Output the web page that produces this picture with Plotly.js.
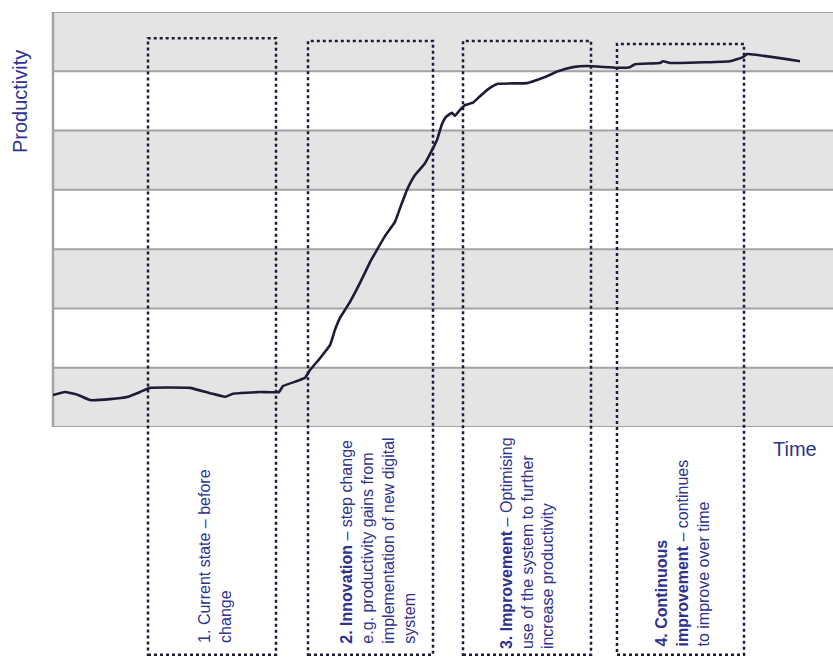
<!DOCTYPE html>
<html>
<head>
<meta charset="utf-8">
<script src="https://cdn.plot.ly/plotly-3.0.1.min.js"></script>
<style>html,body{margin:0;padding:0;background:#fff;}#chart{width:833px;height:657px;}</style>
</head>
<body>
<div id="chart"></div>
<script>
// Time (arbitrary units) and productivity (arbitrary units, gridlines at integers)
var timeValues = [0,12,25,37,57,75,87,97,137,157,172,180,207,226,230,245,252,257,267,277,282,287,297,307,317,322,332,342,347,354,362,372,379,384,389,393,399,402,407,412,420,427,437,445,474,490,505,520,534,564,577,582,607,610,617,627,677,690,694,747];
var productivity = [0.54,0.59,0.54,0.455,0.47,0.51,0.59,0.66,0.66,0.57,0.51,0.56,0.59,0.59,0.69,0.78,0.83,0.96,1.16,1.38,1.64,1.84,2.11,2.43,2.78,2.93,3.22,3.46,3.69,4.0,4.25,4.45,4.67,4.84,5.11,5.23,5.30,5.25,5.35,5.43,5.47,5.58,5.72,5.79,5.80,5.89,6.00,6.07,6.09,6.06,6.07,6.12,6.14,6.17,6.14,6.14,6.17,6.24,6.29,6.17];

// Phase windows (time start, time end)
var phaseStart = [95, 255, 410, 564];
var phaseEnd   = [223, 380, 538, 691];
var phaseTop   = [0.937, 0.930, 0.930, 0.923];
var phaseLabels = [
  "1. Current state \u2013 before<br>change",
  "<b>2. Innovation</b> \u2013 step change<br>e.g. productivity gains from<br>implementation of new digital<br>system",
  "<b>3. Improvement</b> \u2013 Optimising<br>use of the system to further<br>increase productivity",
  "<b>4. Continuous</b><br><b>improvement</b> \u2013 continues<br>to improve over time"
];
var labelX = [162, 325, 474, 630];
var labelBottom = [-0.525, -0.527, -0.540, -0.535];

var yTitle = "Productivity";
var xTitle = "Time";
var bandCount = 7;

var navy = "#1c1c3a";
var textBlue = "#2f3290";

var shapes = [];
for (var i = 0; i < bandCount; i++) {
  if (i % 2 === 0) {
    shapes.push({type:"rect", xref:"paper", yref:"y", x0:0, x1:1, y0:i, y1:i+1,
      fillcolor:"#e4e4e4", line:{width:0}, layer:"below"});
  }
}
for (var j = 0; j <= bandCount; j++) {
  shapes.push({type:"line", xref:"paper", yref:"y", x0:0, x1:1, y0:j, y1:j,
    line:{color:"#a3a3a3", width:2}, layer:"below"});
}
shapes.push({type:"line", xref:"paper", yref:"paper", x0:0, x1:0, y0:0, y1:1,
  line:{color:"#a3a3a3", width:2.5}, layer:"below"});

for (var k = 0; k < phaseStart.length; k++) {
  shapes.push({type:"rect", xref:"x", yref:"paper", x0:phaseStart[k], x1:phaseEnd[k],
    y0:-0.549, y1:phaseTop[k], fillcolor:"rgba(0,0,0,0)",
    line:{color:navy, width:2.5, dash:"dot"}, layer:"above"});
}

var annotations = [];
for (var m = 0; m < phaseLabels.length; m++) {
  annotations.push({text:phaseLabels[m], xref:"x", yref:"paper", x:labelX[m], y:labelBottom[m],
    xanchor:"center", yanchor:"bottom", textangle:-90, align:"left", showarrow:false,
    font:{family:"Liberation Sans, Arial, sans-serif", size:16, color:textBlue}});
}
annotations.push({text:yTitle, xref:"paper", yref:"paper", x:-0.0423, y:0.783,
  xanchor:"center", yanchor:"middle", textangle:-90, showarrow:false,
  font:{family:"Liberation Sans, Arial, sans-serif", size:20, color:textBlue}});
annotations.push({text:xTitle, xref:"paper", yref:"paper", x:0.951, y:-0.053,
  xanchor:"center", yanchor:"middle", showarrow:false,
  font:{family:"Liberation Sans, Arial, sans-serif", size:20, color:textBlue}});

var trace = {x:timeValues, y:productivity, type:"scatter", mode:"lines",
  line:{color:navy, width:2.6, shape:"spline", smoothing:0.3}, hoverinfo:"skip"};

var layout = {
  width:833, height:657,
  margin:{l:53, r:0, t:12, b:230},
  paper_bgcolor:"#ffffff", plot_bgcolor:"#ffffff",
  showlegend:false,
  xaxis:{range:[0,780], showgrid:false, zeroline:false, showticklabels:false, ticks:"", showline:false, fixedrange:true},
  yaxis:{range:[0,7], showgrid:false, zeroline:false, showticklabels:false, ticks:"", showline:false, fixedrange:true},
  shapes:shapes,
  annotations:annotations
};

Plotly.newPlot("chart", [trace], layout, {displayModeBar:false, staticPlot:true});
</script>
</body>
</html>
